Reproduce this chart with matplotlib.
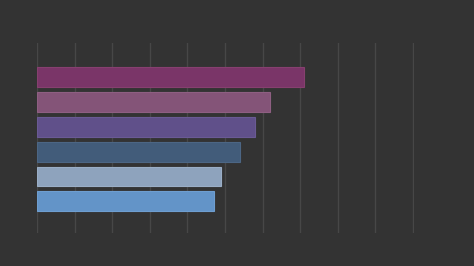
import matplotlib
matplotlib.use("Agg")
from matplotlib import pyplot as plt

# bar values, top to bottom
categories = ["A", "B", "C", "D", "E", "F"]
values = [7.1, 6.2, 5.8, 5.41, 4.9, 4.7]
colors = ["#7a3568", "#845478", "#60508a", "#425c7a", "#8ea3bd", "#6394c8"]
edges = ["#86406f", "#8e5f82", "#6a5a94", "#4c6684", "#9aaec6", "#6e9ed0"]

fig = plt.figure(figsize=(4.74, 2.66), dpi=100, facecolor="#333333")
ax = fig.add_axes([37 / 474, 33 / 266, 377 / 474, 190 / 266])
ax.set_facecolor("#333333")

pos = list(range(len(categories)))
ax.barh(pos, values, height=0.8, color=colors,
        edgecolor=edges, linewidth=0.8, zorder=3)

ax.set_xlim(0, 10.03)
ax.set_ylim(6.28, -1.38)
ax.set_xticks(range(11))
ax.grid(axis="x", color="#474747", linewidth=1, zorder=0)
ax.tick_params(left=False, bottom=False, labelleft=False, labelbottom=False)
for s in ax.spines.values():
    s.set_visible(False)

fig.savefig("out.png", dpi=100, facecolor="#333333")
